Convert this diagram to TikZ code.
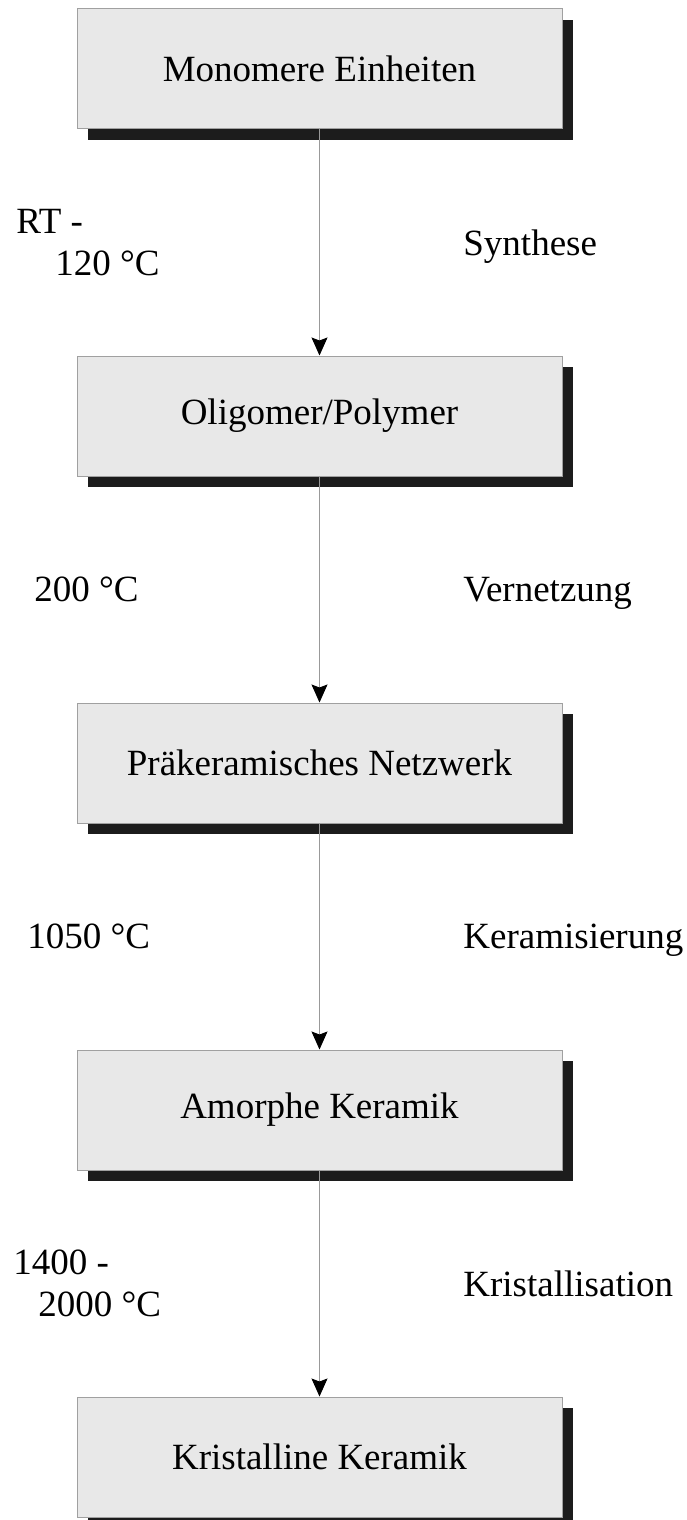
\documentclass[tikz,border=0pt]{standalone}
\usepackage{fontspec}
\setmainfont{Liberation Serif}
\usetikzlibrary{arrows.meta, positioning, calc, shadows}
\definecolor{boxfill}{HTML}{E8E8E8}
\definecolor{boxline}{HTML}{A0A0A0}
\definecolor{shadowgray}{HTML}{1C1C1C}
\definecolor{linegray}{HTML}{999999}

\begin{document}
\begin{tikzpicture}[
        node distance=113pt,
        % styles
        stage/.style={rectangle, minimum width=242.5pt, minimum height=60pt, draw=boxline, line width=0.5pt, fill=boxfill, text centered, font=\fontsize{18.5}{21}\selectfont, drop shadow={shadow xshift=5.5pt, shadow yshift=-5.5pt, fill=shadowgray, opacity=1}},
        templabel/.style={anchor=west, inner sep=0pt, text depth=0pt, align=left, font=\fontsize{18.5}{21}\selectfont},
        proclabel/.style={anchor=west, inner sep=0pt, text depth=0pt, font=\fontsize{18.5}{21}\selectfont},
        arrow/.style={draw=linegray, line width=0.5pt, -{Stealth[length=9pt, width=8pt, inset=1.5pt, black]}}
    ]
    \useasboundingbox (0,0) rectangle (343pt,-760pt);

    % stages
    \node (mono) [stage] at (159.75pt,-34.5pt) {Monomere Einheiten};
    \node (olig) [stage, below=of mono] {Oligomer/Polymer};
    \node (netz) [stage, below=of olig] {Präkeramisches Netzwerk};
    \node (amor) [stage, below=of netz] {Amorphe Keramik};
    \node (kris) [stage, below=of amor] {Kristalline Keramik};

    % connections
    \draw [arrow] (mono) -- (olig);
    \draw [arrow] (olig) -- (netz);
    \draw [arrow] (netz) -- (amor);
    \draw [arrow] (amor) -- (kris);

    % midpoints of the arrows
    \coordinate (m1) at ($(mono.south)!0.5!(olig.north)$);
    \coordinate (m2) at ($(olig.south)!0.5!(netz.north)$);
    \coordinate (m3) at ($(netz.south)!0.5!(amor.north)$);
    \coordinate (m4) at ($(amor.south)!0.5!(kris.north)$);

    % temperatures
    \node (temp1) [templabel] at ([xshift=-151.75pt]m1) {RT -\\\hspace*{19.5pt}120 °C};
    \node (temp2) [templabel] at ([xshift=-142.75pt]m2) {200 °C};
    \node (temp3) [templabel] at ([xshift=-146.25pt]m3) {1050 °C};
    \node (temp4) [templabel] at ([xshift=-153.25pt]m4) {1400 -\\\hspace*{12.5pt}2000 °C};

    % process steps
    \node (proc1) [proclabel] at ([xshift=71.75pt]m1) {Synthese};
    \node (proc2) [proclabel] at ([xshift=71.75pt]m2) {Vernetzung};
    \node (proc3) [proclabel] at ([xshift=71.75pt]m3) {Keramisierung};
    \node (proc4) [proclabel] at ([xshift=71.75pt]m4) {Kristallisation};

\end{tikzpicture}
\end{document}
